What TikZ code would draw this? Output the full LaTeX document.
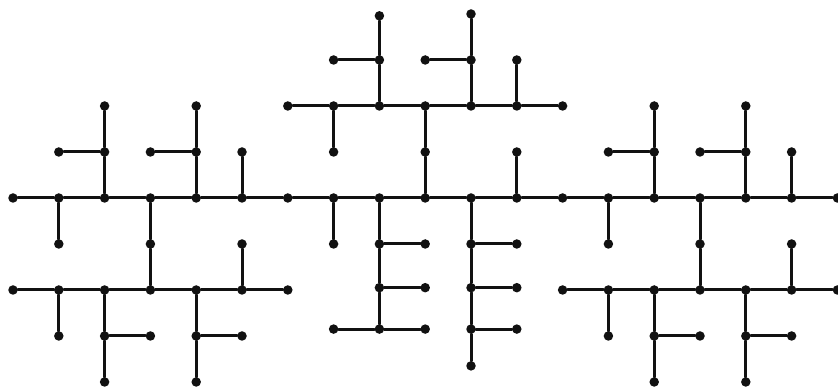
\documentclass[tikz,border=0pt]{standalone}
\usepackage{tikz}
\definecolor{ink}{HTML}{111111}
\tikzset{
  % --- nodes
  knot/.style = {circle, fill=ink, inner sep=0pt, minimum size=9.5pt},
  % --- edges
  wire/.style = {draw=ink, line width=3pt, line cap=round},
}
\begin{document}
\begin{tikzpicture}[x=45.8pt,y=-46pt]
  \useasboundingbox (-0.284,-0.304) rectangle (18.013,8.152);

  % spine through all three blocks
  \foreach \i in {0,...,18}
    \node[knot] (n\i-4) at (\i,4) {};
  \foreach \i [evaluate=\i as \k using int(\i+1)] in {0,...,17}
    \draw[wire] (n\i-4) -- (n\k-4);

  % left and right blocks: same twigs, shifted by 12 columns
  \foreach \o in {0,12} {
    \pgfmathtruncatemacro\cA{\o+1}
    \pgfmathtruncatemacro\cB{\o+2}
    \pgfmathtruncatemacro\cC{\o+3}
    \pgfmathtruncatemacro\cD{\o+4}
    \pgfmathtruncatemacro\cE{\o+5}
    \pgfmathtruncatemacro\cF{\o+6}
    % lower rail
    \foreach \i in {\o,...,\cF}
      \node[knot] (n\i-6) at (\i,6) {};
    \foreach \i [evaluate=\i as \k using int(\i+1)] in {\o,...,\cE}
      \draw[wire] (n\i-6) -- (n\k-6);
    % twigs round the spine
    \node[knot] (n\cA-5) at (\cA,5) {};
    \node[knot] (n\cA-3) at (\cA,3) {};
    \node[knot] (n\cB-3) at (\cB,3) {};
    \node[knot] (n\cB-2) at (\cB,2) {};
    \node[knot] (n\cC-5) at (\cC,5) {};
    \node[knot] (n\cD-3) at (\cD,3) {};
    \node[knot] (n\cC-3) at (\cC,3) {};
    \node[knot] (n\cD-2) at (\cD,2) {};
    \node[knot] (n\cE-3) at (\cE,3) {};
    % twigs round the lower rail
    \node[knot] (n\cA-7) at (\cA,7) {};
    \node[knot] (n\cB-7) at (\cB,7) {};
    \node[knot] (n\cB-8) at (\cB,8) {};
    \node[knot] (n\cC-7) at (\cC,7) {};
    \node[knot] (n\cD-7) at (\cD,7) {};
    \node[knot] (n\cD-8) at (\cD,8) {};
    \node[knot] (n\cE-7) at (\cE,7) {};
    \node[knot] (n\cE-5) at (\cE,5) {};
    \draw[wire] (n\cA-4) -- (n\cA-5);
    \draw[wire] (n\cB-4) -- (n\cB-3) -- (n\cB-2);
    \draw[wire] (n\cA-3) -- (n\cB-3);
    \draw[wire] (n\cC-4) -- (n\cC-5) -- (n\cC-6);
    \draw[wire] (n\cD-4) -- (n\cD-3) -- (n\cD-2);
    \draw[wire] (n\cC-3) -- (n\cD-3);
    \draw[wire] (n\cE-4) -- (n\cE-3);
    \draw[wire] (n\cA-6) -- (n\cA-7);
    \draw[wire] (n\cB-6) -- (n\cB-7) -- (n\cB-8);
    \draw[wire] (n\cB-7) -- (n\cC-7);
    \draw[wire] (n\cD-6) -- (n\cD-7) -- (n\cD-8);
    \draw[wire] (n\cD-7) -- (n\cE-7);
    \draw[wire] (n\cE-6) -- (n\cE-5);
  }

  % middle block, upper rail
  \foreach \i in {6,...,12}
    \node[knot] (n\i-2) at (\i,2) {};
  \foreach \i [evaluate=\i as \k using int(\i+1)] in {6,...,11}
    \draw[wire] (n\i-2) -- (n\k-2);
  \node[knot] (n7-3)  at (7,3)    {};
  \node[knot] (n7-1)  at (7,1)    {};
  \node[knot] (n8-1)  at (8,1)    {};
  \node[knot] (n8-0)  at (8,0.04) {};
  \node[knot] (n9-3)  at (9,3)    {};
  \node[knot] (n9-1)  at (9,1)    {};
  \node[knot] (n10-1) at (10,1)   {};
  \node[knot] (n10-0) at (10,0)   {};
  \node[knot] (n11-1) at (11,1)   {};
  \draw[wire] (n7-2) -- (n7-3);
  \draw[wire] (n8-2) -- (n8-1) -- (n8-0);
  \draw[wire] (n7-1) -- (n8-1);
  \draw[wire] (n9-2) -- (n9-3) -- (n9-4);
  \draw[wire] (n10-2) -- (n10-1) -- (n10-0);
  \draw[wire] (n9-1) -- (n10-1);
  \draw[wire] (n11-2) -- (n11-1);

  % middle block, combs below the spine
  \node[knot] (n7-5)  at (7,5)     {};
  \node[knot] (n8-5)  at (8,5)     {};
  \node[knot] (n8-6)  at (8,5.95)  {};
  \node[knot] (n8-7)  at (8,6.85)  {};
  \node[knot] (n7-7)  at (7,6.85)  {};
  \node[knot] (n9-5)  at (9,5)     {};
  \node[knot] (n9-6)  at (9,5.95)  {};
  \node[knot] (n9-7)  at (9,6.85)  {};
  \node[knot] (n10-5) at (10,5)    {};
  \node[knot] (n10-6) at (10,5.95) {};
  \node[knot] (n10-7) at (10,6.85) {};
  \node[knot] (n10-8) at (10,7.65) {};
  \node[knot] (n11-5) at (11,5)    {};
  \node[knot] (n11-6) at (11,5.95) {};
  \node[knot] (n11-7) at (11,6.85) {};
  \node[knot] (n11-3) at (11,3)    {};
  \draw[wire] (n7-4) -- (n7-5);
  \draw[wire] (n8-4) -- (n8-5) -- (n8-6) -- (n8-7);
  \draw[wire] (n8-5) -- (n9-5);
  \draw[wire] (n8-6) -- (n9-6);
  \draw[wire] (n7-7) -- (n8-7) -- (n9-7);
  \draw[wire] (n10-4) -- (n10-5) -- (n10-6) -- (n10-7) -- (n10-8);
  \draw[wire] (n10-5) -- (n11-5);
  \draw[wire] (n10-6) -- (n11-6);
  \draw[wire] (n10-7) -- (n11-7);
  \draw[wire] (n11-4) -- (n11-3);
\end{tikzpicture}
\end{document}
